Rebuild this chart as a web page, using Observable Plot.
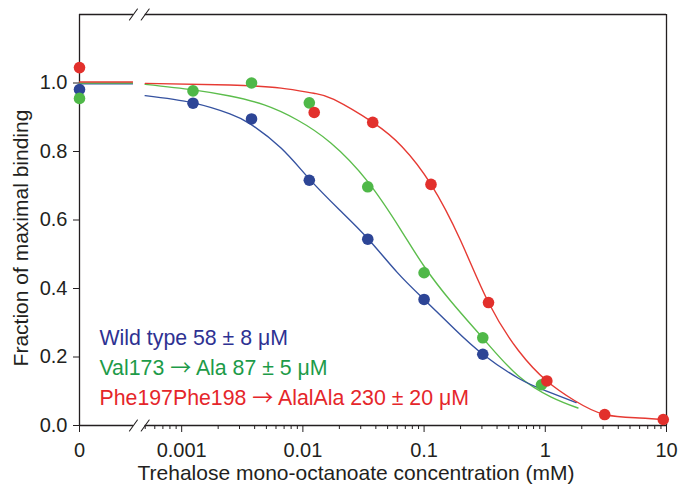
<!DOCTYPE html>
<html>
<head>
<meta charset="utf-8">
<script src="https://cdn.jsdelivr.net/npm/d3@7"></script>
<script src="https://cdn.jsdelivr.net/npm/@observablehq/plot@0.6"></script>
<style>
  html, body { margin: 0; padding: 0; background: #ffffff; }
  #chart svg { display: block; }
</style>
</head>
<body>
<div id="chart"></div>
<script>
// ---------- data (concentration in mM) ----------
const blueX  = [0, 0.00124, 0.00377, 0.0113, 0.0343, 0.1, 0.305];
const blueY  = [0.981, 0.941, 0.895, 0.716, 0.544, 0.368, 0.208];
const greenX = [0, 0.00124, 0.00377, 0.0113, 0.0343, 0.1, 0.305, 0.93];
const greenY = [0.955, 0.977, 1.0, 0.942, 0.697, 0.446, 0.256, 0.119];
const redX   = [0, 0.0124, 0.0377, 0.114, 0.34, 1.03, 3.09, 9.4];
const redY   = [1.045, 0.914, 0.885, 0.704, 0.359, 0.13, 0.032, 0.0175];

// fitted curves
const blueFitX  = [0.0005, 0.00124, 0.0025, 0.0037, 0.0066, 0.0113, 0.02, 0.0343, 0.06, 0.1, 0.18, 0.305, 0.6, 1.0, 1.8];
const blueFitY  = [0.963, 0.942, 0.91, 0.88, 0.81, 0.72, 0.63, 0.546, 0.447, 0.368, 0.28, 0.208, 0.138, 0.102, 0.067];
const greenFitX = [0.0005, 0.00124, 0.0025, 0.0048, 0.009, 0.017, 0.0343, 0.0646, 0.1, 0.167, 0.316, 0.594, 1.12, 1.86];
const greenFitY = [0.996, 0.98, 0.962, 0.936, 0.892, 0.825, 0.712, 0.570, 0.465, 0.362, 0.249, 0.146, 0.083, 0.051];
const redFitX   = [0.0005, 0.0025, 0.0066, 0.0123, 0.018, 0.0377, 0.0658, 0.114, 0.2, 0.34, 0.6, 1.03, 1.74, 3.09, 6, 10];
const redFitY   = [0.999, 0.994, 0.985, 0.970, 0.952, 0.885, 0.814, 0.704, 0.54, 0.359, 0.219, 0.13, 0.073, 0.032, 0.022, 0.016];
// fitted value at zero concentration
const zeroFit = {blue: 0.998, green: 1.0, red: 1.003};

const seriesNames  = ["blue", "green", "red"];
const pointColors  = {blue: "#2d4596", green: "#4fb848", red: "#e2302c"};
const lineColors   = {blue: "#3552a0", green: "#5cbd4c", red: "#e63a33"};
const legendLines  = ["Wild type 58 ± 8 μM", "Val173 → Ala 87 ± 5 μM", "Phe197Phe198 → AlalAla 230 ± 20 μM"];
const legendColors = ["#2e3192", "#1d9b48", "#e5262a"];

const majorTicks  = [0, 0.001, 0.01, 0.1, 1, 10];
const majorLabels = ["0", "0.001", "0.01", "0.1", "1", "10"];
const minorTicks  = [0.0005, 0.0006, 0.0007, 0.0008, 0.0009,
  0.002, 0.003, 0.004, 0.005, 0.006, 0.007, 0.008, 0.009,
  0.02, 0.03, 0.04, 0.05, 0.06, 0.07, 0.08, 0.09,
  0.2, 0.3, 0.4, 0.5, 0.6, 0.7, 0.8, 0.9,
  2, 3, 4, 5, 6, 7, 8, 9];
const yTicks = [0, 0.2, 0.4, 0.6, 0.8, 1.0];
const xTitle = "Trehalose mono-octanoate concentration (mM)";
const yTitle = "Fraction of maximal binding";

// ---------- broken log axis: zero sits to the left of the break ----------
const U0 = -3.843;              // axis position (in log10 units) used for 0
const BREAK = [0.0004, 0.0005]; // axis break between these concentrations
const X_MAX = 10, Y_MAX = 1.2;
const ux = v => v === 0 ? U0 : Math.log10(v);

const pts = {
  blue:  blueX.map((x, i) => ({s: "blue", x, y: blueY[i]})),
  green: greenX.map((x, i) => ({s: "green", x, y: greenY[i]})),
  red:   redX.map((x, i) => ({s: "red", x, y: redY[i]}))
};
const fits = {
  blue:  blueFitX.map((x, i) => ({s: "blue", x, y: blueFitY[i]})),
  green: greenFitX.map((x, i) => ({s: "green", x, y: greenFitY[i]})),
  red:   redFitX.map((x, i) => ({s: "red", x, y: redFitY[i]}))
};
const breakMarks = [BREAK[0], BREAK[1]].flatMap(x => [{x, y: 0}, {x, y: Y_MAX}]);

const labelOf = new Map(majorTicks.map((t, i) => [ux(t), majorLabels[i]]));
const ink = "#231f20";
const slash = {draw(ctx, l) { ctx.moveTo(0, 0); ctx.lineTo(0, -l); }};

const drawOrder = ["green", "blue", "red"];

const chart = Plot.plot({
  width: 679,
  height: 485,
  marginLeft: 79,
  marginRight: 13,
  marginTop: 14,
  marginBottom: 60,
  style: {fontFamily: "'Liberation Sans', Arial, Helvetica, sans-serif", fontSize: "20px", color: ink, background: "#ffffff"},
  x: {type: "linear", domain: [U0, ux(X_MAX)]},
  y: {type: "linear", domain: [0, Y_MAX]},
  marks: [
    // frame with gaps at the break
    Plot.ruleX([U0, ux(X_MAX)], {stroke: ink, strokeWidth: 1.3}),
    Plot.ruleY([0, Y_MAX], {x1: U0, x2: ux(BREAK[0]), stroke: ink, strokeWidth: 1.3}),
    Plot.ruleY([0, Y_MAX], {x1: ux(BREAK[1]), x2: ux(X_MAX), stroke: ink, strokeWidth: 1.3}),
    Plot.vector(breakMarks, {x: d => ux(d.x), y: "y", length: 13.5, rotate: 36, anchor: "middle", shape: slash, stroke: ink, strokeWidth: 1.1}),
    // axes
    Plot.axisX({ticks: majorTicks.map(ux), tickFormat: u => labelOf.get(u), tickSize: 7, tickPadding: 10, label: null, stroke: ink, fontSize: 20}),
    Plot.axisX({ticks: minorTicks.map(ux), tickFormat: () => "", tickSize: 4, label: null, stroke: ink}),
    Plot.axisY({ticks: yTicks, tickFormat: d3.format(".1f"), tickSize: 6, tickPadding: 6, label: null, stroke: ink, fontSize: 20}),
    // fitted curves
    ...seriesNames.map(s => Plot.ruleY([zeroFit[s]], {x1: U0, x2: ux(BREAK[0]), stroke: lineColors[s], strokeWidth: 1.4})),
    ...drawOrder.map(s => Plot.line(fits[s], {x: d => ux(d.x), y: "y", stroke: lineColors[s], strokeWidth: 1.4, curve: "natural"})),
    // measured points
    ...["blue", "green", "red"].map(s => Plot.dot(pts[s], {x: d => ux(d.x), y: "y", r: 5.8, fill: pointColors[s], stroke: "none"})),
    // legend text
    ...legendLines.map((t, i) => Plot.text([t], {text: d => d, frameAnchor: "bottom-left", textAnchor: "start", lineAnchor: "bottom", dx: 20, dy: -21 - 30 * (legendLines.length - 1 - i), fill: legendColors[i], fontSize: 21.3})),
    // axis titles
    Plot.text([xTitle], {text: d => d, frameAnchor: "bottom", textAnchor: "middle", lineAnchor: "bottom", dx: -17, dy: 54, fill: ink, fontSize: 21}),
    Plot.text([yTitle], {text: d => d, frameAnchor: "left", textAnchor: "middle", lineAnchor: "bottom", rotate: -90, dx: -52, dy: 18, fill: ink, fontSize: 21})
  ]
});

// draw the arrows of the legend with a font whose arrow is wide and thin, as in the reference
chart.querySelectorAll("text").forEach(t => {
  const target = t.querySelector("tspan") || t;
  const s = target.textContent;
  if (!s.includes("→")) return;
  target.textContent = "";
  s.split(/(→)/).forEach(part => {
    if (!part) return;
    const span = document.createElementNS("http://www.w3.org/2000/svg", "tspan");
    span.textContent = part;
    if (part === "→") {
      span.setAttribute("font-family", "'Noto Sans CJK JP', 'DejaVu Sans', sans-serif");
      span.setAttribute("font-size", "21");
    }
    target.appendChild(span);
  });
});

document.getElementById("chart").appendChild(chart);
</script>
</body>
</html>
